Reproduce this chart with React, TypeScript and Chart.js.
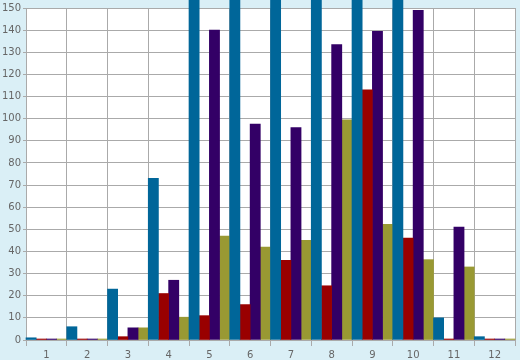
import React, { useEffect, useRef } from "react";
import { Chart, registerables } from "chart.js";

Chart.register(...registerables);

const categories = ["1", "2", "3", "4", "5", "6", "7", "8", "9", "10", "11", "12"];
const seriesBlue = [1, 6, 23, 73, 200, 200, 200, 200, 200, 200, 10, 1.5];
const seriesRed = [0, 0, 1.5, 21, 11, 16, 36, 24.5, 113, 46, 0, 0];
const seriesPurple = [0, 0, 5.5, 27, 140, 97.5, 96, 133.5, 139.5, 149, 51, 0];
const seriesOlive = [0, 0, 5.5, 10.3, 47, 42, 45, 99.5, 52.3, 36.3, 33, 0];

const colors = ["#006699", "#990000", "#330066", "#999933"];

export default function App() {
  const ref = useRef<HTMLCanvasElement>(null);
  useEffect(() => {
    document.body.style.margin = "0";
    const bgPlugin = {
      id: "bg",
      beforeDraw(chart: any) {
        const { ctx, chartArea } = chart;
        ctx.save();
        ctx.fillStyle = "#daeff6";
        ctx.fillRect(0, 0, chart.width, chart.height);
        ctx.fillStyle = "#ffffff";
        ctx.fillRect(chartArea.left, chartArea.top, chartArea.right - chartArea.left, chartArea.bottom - chartArea.top);
        ctx.restore();
      },
    };
    const font = { family: "DejaVu Sans", size: 10 };
    const chart = new Chart(ref.current!, {
      type: "bar",
      data: {
        labels: categories,
        datasets: [seriesBlue, seriesRed, seriesPurple, seriesOlive].map((d, i) => ({
          data: d,
          backgroundColor: colors[i],
          borderWidth: 0,
          barPercentage: 1,
          categoryPercentage: 1,
          minBarLength: 1,
          clip: false as any,
        })),
      },
      options: {
        responsive: false,
        animation: false,
        layout: { padding: { top: 5, right: 5, left: 0, bottom: 0 } },
        plugins: { legend: { display: false }, tooltip: { enabled: false } },
        scales: {
          x: {
            offset: true,
            grid: { color: "#aaaaaa", tickLength: 6, offset: true, lineWidth: 1 },
            border: { color: "#aaaaaa" },
            ticks: { color: "#666666", font, padding: 3, maxRotation: 0 },
            afterFit: (s: any) => { s.height = 20; },
          },
          y: {
            min: 0,
            max: 150,
            grid: { color: "#aaaaaa", tickLength: 3 },
            border: { color: "#aaaaaa" },
            ticks: { stepSize: 10, color: "#666666", font, padding: 2 },
            afterFit: (s: any) => { s.width = 26; },
          },
        },
      },
      plugins: [bgPlugin],
    });
    return () => chart.destroy();
  }, []);
  return <canvas ref={ref} width={520} height={360} style={{ display: "block" }} />;
}
